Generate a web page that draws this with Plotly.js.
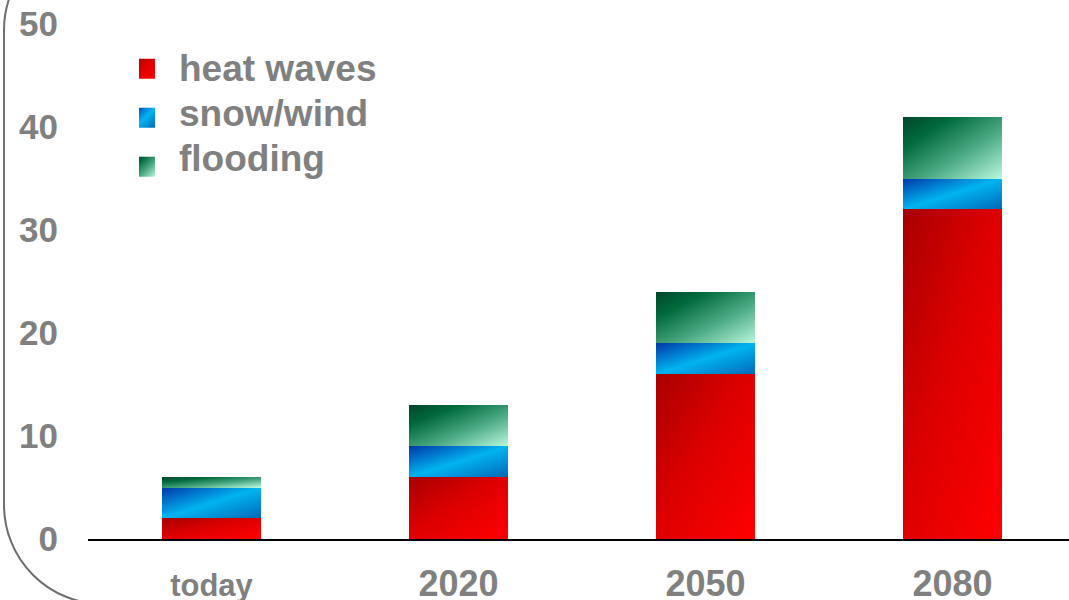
<!DOCTYPE html>
<html>
<head>
<meta charset="utf-8">
<script src="https://cdn.plot.ly/plotly-3.0.1.min.js"></script>
<style>
  html, body { margin: 0; padding: 0; background: #ffffff; overflow: hidden; }
  #wrap { position: relative; width: 1069px; height: 600px; overflow: hidden; }
  #chart { position: absolute; left: 0; top: 0; width: 1069px; height: 600px; }
  /* rounded slide frame on the left */
  #frame {
    position: absolute; left: 3px; top: -70px; width: 1400px; height: 675px;
    box-sizing: border-box; border: 2px solid #6e6e6e; border-radius: 100px;
    pointer-events: none;
  }
</style>
</head>
<body>
<div id="wrap">
  <div id="chart"></div>
  <div id="frame"></div>
</div>
<script>
// Categories and stacked values (number of events)
const periods = ['today', '2020', '2050', '2080'];
const periodLabels = ['<span style="font-size:31px">today</span>', '2020', '2050', '2080'];
const heatWaves = [2, 6, 16, 32];
const snowWind = [3, 3, 3, 3];
const flooding = [1, 4, 5, 6];
const seriesNames = ['heat waves', 'snow/wind', 'flooding'];
const yTicks = [0, 10, 20, 30, 40, 50];

const baseColors = ['#e00000', '#0090e0', '#2a8a5a'];
const gradIds = ['gradHeat', 'gradSnow', 'gradFlood'];

const seriesValues = [heatWaves, snowWind, flooding];
const traces = seriesValues.map((vals, i) => ({
  type: 'bar',
  name: seriesNames[i],
  x: periods,
  y: vals,
  width: 0.4,
  marker: { color: baseColors[i], line: { width: 0 } },
  hoverinfo: 'skip'
}));

const grey = '#808080';
const layout = {
  width: 1069,
  height: 600,
  margin: { l: 88, r: 0, t: 24, b: 61 },
  paper_bgcolor: '#ffffff',
  plot_bgcolor: 'rgba(0,0,0,0)',
  barmode: 'stack',
  showlegend: true,
  font: { family: 'Liberation Sans, Arial, sans-serif', color: grey },
  legend: {
    traceorder: 'normal',
    x: 0.052, y: 0.985, xanchor: 'left', yanchor: 'top',
    bgcolor: 'rgba(0,0,0,0)',
    font: { size: 37, color: grey, weight: 'bold' },
    itemwidth: 30,
    tracegroupgap: 0
  },
  xaxis: {
    type: 'category',
    range: [-0.5, 3.472],
    tickmode: 'array',
    tickvals: periods,
    ticktext: periodLabels,
    tickfont: { size: 36, color: grey, weight: 'bold' },
    ticks: '',
    ticklabelstandoff: 12,
    showline: true,
    linecolor: '#000000',
    linewidth: 2,
    showgrid: false,
    zeroline: false,
    fixedrange: true
  },
  yaxis: {
    range: [0, 50],
    tickmode: 'array',
    tickvals: yTicks,
    tickfont: { size: 35, color: grey, weight: 'bold' },
    ticks: '',
    ticklabelstandoff: 29,
    showline: false,
    showgrid: false,
    zeroline: false,
    fixedrange: true
  }
};

function addGradients(gd) {
  const svgNS = 'http://www.w3.org/2000/svg';
  const svg = gd.querySelector('svg.main-svg');
  let defs = svg.querySelector('defs');
  if (!defs) { defs = document.createElementNS(svgNS, 'defs'); svg.insertBefore(defs, svg.firstChild); }
  const stops = {
    gradHeat: [[0, '#a80000'], [0.45, '#dc0000'], [1, '#ff0000']],
    gradSnow: [[0, '#0038a8'], [0.5, '#00b4f0'], [1, '#0068b8']],
    gradFlood: [[0, '#00452a'], [0.25, '#006a3c'], [0.6, '#4aa882'], [1, '#b8f8de']]
  };
  Object.keys(stops).forEach(id => {
    const g = document.createElementNS(svgNS, 'linearGradient');
    g.setAttribute('id', id);
    g.setAttribute('x1', '0'); g.setAttribute('y1', '0');
    g.setAttribute('x2', '1'); g.setAttribute('y2', '1');
    stops[id].forEach(([o, c]) => {
      const s = document.createElementNS(svgNS, 'stop');
      s.setAttribute('offset', o);
      s.setAttribute('stop-color', c);
      g.appendChild(s);
    });
    defs.appendChild(g);
  });

  // bars
  gd.querySelectorAll('.barlayer .trace').forEach((tr, i) => {
    tr.querySelectorAll('path').forEach(p => { p.style.fill = 'url(#' + gradIds[i] + ')'; });
  });
  // legend rows: 45px apart, square swatches sitting slightly lower on each row
  gd.querySelectorAll('.legend .traces').forEach((tr, i) => {
    tr.setAttribute('transform', 'translate(0,' + (35 + i * 45) + ')');
    tr.querySelectorAll('.legendpoints path').forEach(p => {
      const cx = 6, cy = 2 + i * 4;
      p.setAttribute('d', 'M' + (cx - 10) + ',' + (cy - 10) + 'H' + (cx + 10) + 'V' + (cy + 10) + 'H' + (cx - 10) + 'Z');
      p.removeAttribute('transform');
      p.style.fill = 'url(#' + gradIds[i] + ')';
      p.style.stroke = 'none';
    });
  });
}

Plotly.newPlot('chart', traces, layout, { displayModeBar: false, staticPlot: true })
  .then(addGradients);
</script>
</body>
</html>
